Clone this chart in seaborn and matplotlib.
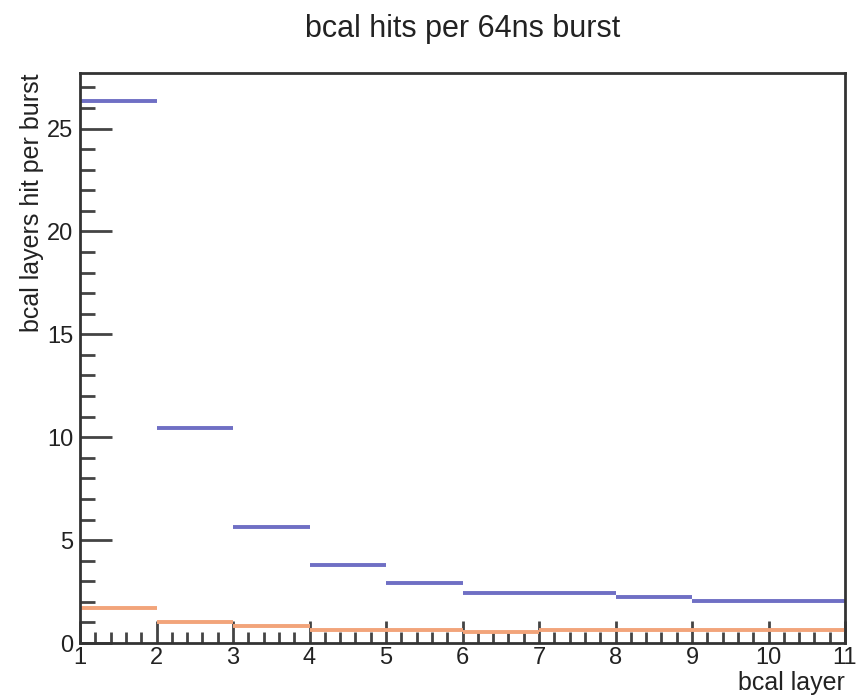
import numpy as np
import pandas as pd
import matplotlib
matplotlib.use("Agg")
import matplotlib.pyplot as plt
from matplotlib.ticker import MultipleLocator
import seaborn as sns

# data
bin_lo = [1, 2, 3, 4, 5, 6, 7, 8, 9, 10]
bin_hi = [2, 3, 4, 5, 6, 7, 8, 9, 10, 11]
hits_blue = [26.35, 10.45, 5.63, 3.79, 2.93, 2.44, 2.44, 2.25, 2.05, 2.05]
hits_orange = [1.70, 1.02, 0.83, 0.63, 0.63, 0.52, 0.63, 0.63, 0.63, 0.63]

rows = []
for series, vals in (("blue", hits_blue), ("orange", hits_orange)):
    for i, (lo, hi, v) in enumerate(zip(bin_lo, bin_hi, vals)):
        rows.append(dict(series=series, bin=f"{series}{i}", x=lo, y=v))
        rows.append(dict(series=series, bin=f"{series}{i}", x=hi, y=v))
df = pd.DataFrame(rows)

sns.set_style("white")
plt.rcParams['font.family'] = ['Liberation Sans', 'DejaVu Sans']

fig = plt.figure(figsize=(8.59, 6.98), dpi=100)
ax = fig.add_axes([80/859, 55/698, 765/859, 570/698])

palette = {"blue": "#6f6fc4", "orange": "#f2a47a"}
for s in ("orange", "blue"):
    sub = df[df.series == s]
    sns.lineplot(data=sub, x="x", y="y", units="bin", estimator=None,
                 color=palette[s], linewidth=2.8, ax=ax, legend=False,
                 solid_capstyle="butt")

ax.set_xlim(1, 11)
ax.set_ylim(0, 27.7)
ax.xaxis.set_major_locator(MultipleLocator(1))
ax.xaxis.set_minor_locator(MultipleLocator(0.2))
ax.yaxis.set_major_locator(MultipleLocator(5))
ax.yaxis.set_minor_locator(MultipleLocator(1))
ax.tick_params(axis='x', which='both', bottom=True, top=False)
ax.tick_params(axis='y', which='both', left=True, right=False)
ax.tick_params(axis='x', which='major', direction='in', length=16, width=2,
               color='#444444', labelsize=17, pad=3, labelcolor='#222222')
ax.tick_params(axis='x', which='minor', direction='in', length=8, width=2,
               color='#444444')
ax.tick_params(axis='y', which='major', direction='in', length=23, width=2,
               color='#444444', labelsize=17, pad=5, labelcolor='#222222')
ax.tick_params(axis='y', which='minor', direction='in', length=11, width=2,
               color='#444444')
for sp in ax.spines.values():
    sp.set_color('#333333')
    sp.set_linewidth(2)

ax.set_xlabel("bcal layer", fontsize=18, loc='right', labelpad=1, color='#222222')
ax.set_ylabel("bcal layers hit per burst", fontsize=18, loc='top', labelpad=2, color='#222222')
fig.suptitle("bcal hits per 64ns burst", fontsize=22, x=0.538, y=0.98, color='#222222')

fig.savefig("out.png", dpi=100)
